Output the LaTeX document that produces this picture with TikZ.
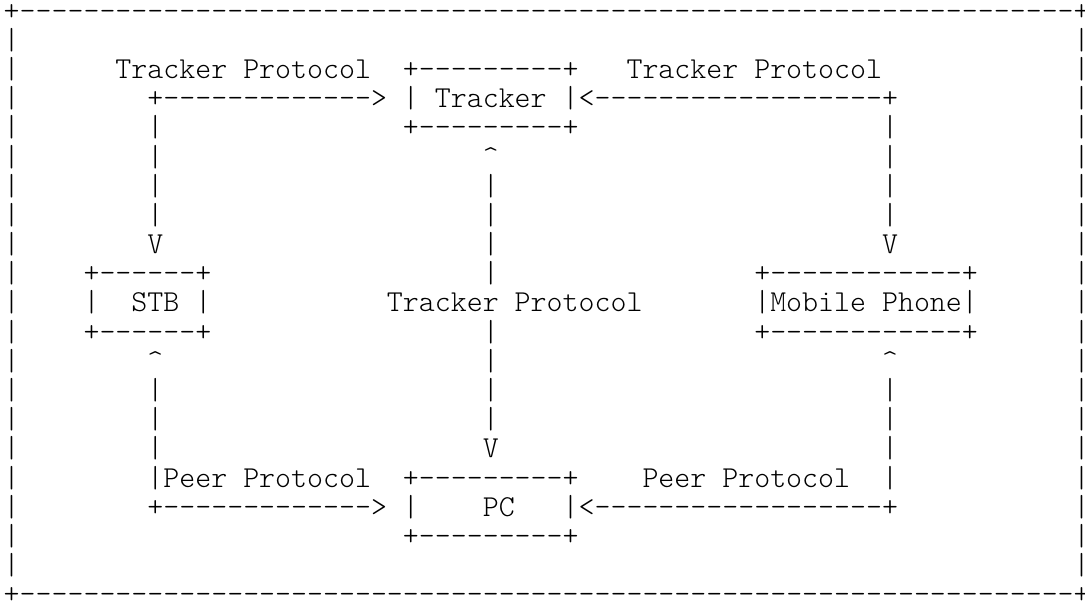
\documentclass[tikz,border=0pt]{standalone}
\usepackage{fontspec}
\newfontfamily\asciifont{lmmonolt10-regular.otf}[Ligatures=TeXOff]
\ExplSyntaxOn
\newcommand\dashrun[1]{\prg_replicate:nn{#1}{-}}
\ExplSyntaxOff
% character grid: column pitch 15.97, row pitch 29.17
\newcommand\cell[4]{%
  \node[ascii] (#1) at ({3.7+15.97*#2},{-(20.3+29.17*#3)}) {#4};}
% a single glyph centred on its column, with a zero-width box
\newcommand\ccell[4]{%
  \node[ascii,anchor=base] (#1) at ({11.7+15.97*#2},{-(20.3+29.17*#3)}) {\makebox[0pt]{#4}};}
\tikzset{
  ascii/.style={font=\asciifont\fontsize{30.42}{36}\selectfont,
    inner sep=0pt, outer sep=0pt, anchor=base west, text=black}
}
\begin{document}
\begin{tikzpicture}[x=1pt,y=1pt]
\fill[white] (0,0) rectangle (1085,-604);
\useasboundingbox (0,0) rectangle (1085,-604);

% outer frame
\cell{frametop}{0}{0}{\makebox[1070pt][l]{+\dashrun{66}+}}
\cell{framebot}{0}{20}{\makebox[1070pt][l]{+\dashrun{66}+}}
\foreach \r in {1,...,19}{
  \cell{frameL\r}{0}{\r}{|}
  \ccell{frameR\r}{67}{\r}{|}
}

% Tracker box and its links
\cell{lblTL}{7}{2}{Tracker Protocol}
\cell{trackertop}{25}{2}{+\dashrun{9}+}
\cell{lblTR}{39}{2}{Tracker Protocol}
\cell{arrowSTBtoT}{9}{3}{+\dashrun{13}>}
\cell{tracker}{25}{3}{| Tracker |}
\cell{arrowMPtoT}{36}{3}{<\dashrun{18}+}
\cell{stbup4}{9}{4}{|}
\cell{trackerbot}{25}{4}{+\dashrun{9}+}
\cell{mpup4}{55}{4}{|}
\cell{stbup5}{9}{5}{|}
\cell{pcup5}{30}{5}{\textasciicircum}
\cell{mpup5}{55}{5}{|}
\foreach \r in {6,7}{
  \cell{stbup\r}{9}{\r}{|}
  \cell{pcup\r}{30}{\r}{|}
  \cell{mpup\r}{55}{\r}{|}
}
\cell{stbhead}{9}{8}{V}
\cell{pcup8}{30}{8}{|}
\cell{mphead}{55}{8}{V}

% STB, middle label, Mobile Phone
\cell{stbtop}{5}{9}{+\dashrun{6}+}
\cell{pcup9}{30}{9}{|}
\cell{mptop}{47}{9}{+\dashrun{12}+}
\cell{stbL}{5}{10}{|}
\cell{stb}{8}{10}{STB}
\cell{stbR}{12}{10}{|}
\cell{lblTM}{24}{10}{Tracker Protocol}
\cell{mobile}{47}{10}{|Mobile Phone|}
\cell{stbbot}{5}{11}{+\dashrun{6}+}
\cell{pcdn11}{30}{11}{|}
\cell{mpbot}{47}{11}{+\dashrun{12}+}

% lower links
\cell{stbtail}{9}{12}{\textasciicircum}
\cell{pcdn12}{30}{12}{|}
\cell{mptail}{55}{12}{\textasciicircum}
\foreach \r in {13,14}{
  \cell{stbdn\r}{9}{\r}{|}
  \cell{pcdn\r}{30}{\r}{|}
  \cell{mpdn\r}{55}{\r}{|}
}
\cell{stbdn15}{9}{15}{|}
\cell{pchead}{30}{15}{V}
\cell{mpdn15}{55}{15}{|}
\cell{lblPL}{9}{16}{|Peer Protocol}
\cell{pctop}{25}{16}{+\dashrun{9}+}
\cell{lblPR}{40}{16}{Peer Protocol}
\cell{mpdn16}{55}{16}{|}
\cell{arrowSTBtoPC}{9}{17}{+\dashrun{13}>}
\cell{pcL}{25}{17}{|}
\cell{pc}{30}{17}{PC}
\cell{pcR}{35}{17}{|}
\cell{arrowMPtoPC}{36}{17}{<\dashrun{18}+}
\cell{pcbot}{25}{18}{+\dashrun{9}+}
\end{tikzpicture}
\end{document}
